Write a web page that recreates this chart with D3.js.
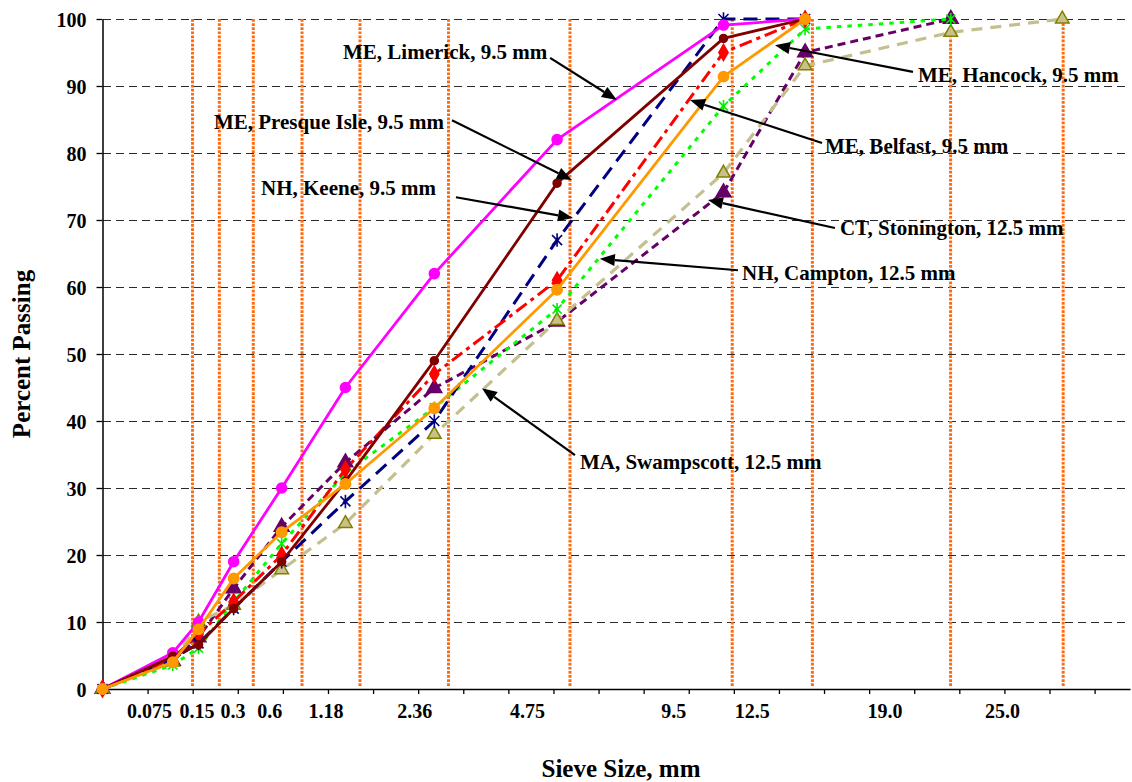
<!DOCTYPE html>
<html>
<head>
<meta charset="utf-8">
<script src="https://cdn.jsdelivr.net/npm/d3@7/dist/d3.min.js"></script>
<style>
  html, body { margin: 0; padding: 0; background: #fff; }
  svg { display: block; }
  text { font-family: "Liberation Serif", "Times New Roman", serif; font-weight: bold; fill: #000; }
</style>
</head>
<body>
<svg id="chart" width="1132" height="782"></svg>
<script>
// Sieve sizes (mm); 0 is the pan origin
const sieveSizes = [0, 0.075, 0.15, 0.3, 0.6, 1.18, 2.36, 4.75, 9.5, 12.5, 19, 25];

// Percent passing for each gradation (in sieve order, ends where the curve reaches 100)
const limerick    = [0, 5.4, 10, 19, 30, 45, 62, 82, 99.1, 100];
const presqueIsle = [0, 4.9, 6.6, 12, 19, 31, 49, 75.5, 97.1, 100];
const keene       = [0, 4.5, 6.8, 12, 19, 28, 40, 67, 100, 100];
const belfast     = [0, 4.6, 8.2, 13, 20, 32.8, 47, 61, 95, 100];
const campton     = [0, 4, 8.9, 16.5, 23.4, 30.6, 41.9, 59.6, 91.4, 100];
const hancock     = [0, 3.6, 6.1, 13, 21.7, 32.2, 42, 56.7, 87, 98.5, 100];
const stonington  = [0, 4.2, 7.7, 15, 24.2, 33.8, 44.9, 54.8, 74.1, 95, 100];
const swampscott  = [0, 4, 10, 12.5, 17.8, 24.7, 38, 55, 77, 93, 98, 100];

// Series names used by the callouts
const seriesNames = [
  "ME, Limerick, 9.5 mm", "ME, Presque Isle, 9.5 mm", "NH, Keene, 9.5 mm",
  "ME, Belfast, 9.5 mm", "NH, Campton, 12.5 mm", "ME, Hancock, 9.5 mm",
  "CT, Stonington, 12.5 mm", "MA, Swampscott, 12.5 mm"
];

// Control sieve guide lines (mm) and the percent each one rises to
const guideSizes = [0.13, 0.232, 0.409, 0.762, 1.343, 2.59, 5.055, 9.8, 12.79, 18.99, 25.05];
const guideTops  = [100, 100, 100, 100, 100, 100, 100, 100, 100, 97.2, 100];

// Axis labels
const sieveLabels = ["0.075", "0.15", "0.3", "0.6", "1.18", "2.36", "4.75", "9.5", "12.5", "19.0", "25.0"];
const yTicks = [0, 10, 20, 30, 40, 50, 60, 70, 80, 90, 100];

// ---------- layout ----------
const svg = d3.select("#chart");
const plot = { left: 102.5, right: 1130, top: 19, bottom: 689 };
const POWER = 0.45;

// 0.45 power gradation scale
const xp = d3.scaleLinear().domain([0, 4.557]).range([plot.left, plot.right]);
const sx = s => xp(Math.pow(s, POWER));
const y = d3.scaleLinear().domain([0, 100]).range([plot.bottom, plot.top]);

// label centres along the sieve axis, in power units
const labelAt = [0.209, 0.419, 0.579, 0.742, 0.991, 1.385, 1.885, 2.534, 2.882, 3.470, 3.991];

// gridlines
svg.append("g").selectAll("line").data(yTicks.filter(d => d > 0)).join("line")
  .attr("x1", plot.left).attr("x2", plot.right)
  .attr("y1", d => y(d) + 0.5).attr("y2", d => y(d) + 0.5)
  .attr("stroke", "#2a2a2a").attr("stroke-width", 1)
  .attr("stroke-dasharray", "8,5").attr("shape-rendering", "crispEdges");

// control sieve guides
svg.append("g").selectAll("line").data(guideSizes).join("line")
  .attr("x1", d => sx(d)).attr("x2", d => sx(d))
  .attr("y1", y(0) - 3).attr("y2", (d, i) => y(guideTops[i]))
  .attr("stroke", "#FF6A0D").attr("stroke-width", 3)
  .attr("stroke-dasharray", "2.7,1.4");

// axes
const xAxis = svg.append("g").attr("transform", `translate(0,${plot.bottom})`)
  .call(d3.axisBottom(xp).tickValues(d3.range(0, 4.41, 0.2)).tickSize(5).tickSizeOuter(0).tickFormat(""));
xAxis.select(".domain").attr("stroke", "#000").attr("stroke-width", 1.5);
xAxis.selectAll(".tick line").attr("stroke", "#000").attr("stroke-width", 1.3);

const yAxis = svg.append("g").attr("transform", `translate(${plot.left},0)`)
  .call(d3.axisLeft(y).tickValues(yTicks).tickSize(6).tickSizeOuter(0).tickPadding(10));
yAxis.select(".domain").attr("stroke", "#000").attr("stroke-width", 1.5);
yAxis.selectAll(".tick line").attr("stroke", "#000").attr("stroke-width", 1.3);
yAxis.selectAll(".tick text").attr("font-size", 20)
  .style("font-family", '"Liberation Serif", "Times New Roman", serif').style("font-weight", "bold")
  .attr("dy", "0.35em");

// sieve labels
svg.append("g").selectAll("text").data(sieveLabels).join("text")
  .attr("x", (d, i) => xp(labelAt[i])).attr("y", 718)
  .attr("text-anchor", "middle").attr("font-size", 20)
  .text(d => d);

// axis titles
svg.append("text").attr("x", 621).attr("y", 777).attr("text-anchor", "middle")
  .attr("font-size", 25).text("Sieve Size, mm");
svg.append("text").attr("transform", `translate(30,354) rotate(-90)`)
  .attr("text-anchor", "middle").attr("font-size", 25).text("Percent Passing");

// ---------- series ----------
const starPath = r => `M${-r},${-r}L${r},${r}M${-r},${r}L${r},${-r}M0,${-r * 1.35}L0,${r * 1.35}`;

const series = [
  { values: stonington,  color: "#660066", width: 3,   dash: "8,5",          marker: "triangle", mSize: 95, mFill: "#660066", mStroke: "#660066" },
  { values: swampscott,  color: "#C4BF8E", width: 3.2, dash: "11,8",         marker: "triangle", mSize: 80, mFill: "#C9C08A", mStroke: "#808000" },
  { values: hancock,     color: "#00FF00", width: 3,   dash: "4.5,6",        marker: "star", mR: 4.5, mStroke: "#00EE00" },
  { values: keene,       color: "#000080", width: 3,   dash: "14,8",         marker: "star", mR: 5, mStroke: "#000080" },
  { values: belfast,     color: "#FF0000", width: 3,   dash: "13,5,4,5",     marker: "diamond", mSize: 75, mFill: "#FF0000", mStroke: "#FF0000" },
  { values: limerick,    color: "#FF00FF", width: 2.8, dash: null,           marker: "circle", mSize: 80, mFill: "#FF00FF", mStroke: "#FF00FF" },
  { values: presqueIsle, color: "#800000", width: 2.8, dash: null,           marker: "circle", mSize: 50, mFill: "#800000", mStroke: "#800000" },
  { values: campton,     color: "#FF9900", width: 2.8, dash: null,           marker: "circle", mSize: 85, mFill: "#FF9900", mStroke: "#FF9900" }
];

const line = d3.line().x(d => sx(d.s)).y(d => y(d.v));

series.forEach(sr => {
  const pts = sr.values.map((v, i) => ({ s: sieveSizes[i], v }));
  const g = svg.append("g");
  g.append("path").datum(pts).attr("d", line)
    .attr("fill", "none").attr("stroke", sr.color).attr("stroke-width", sr.width)
    .attr("stroke-dasharray", sr.dash).attr("stroke-linejoin", "round");
  const m = g.selectAll("path.m").data(pts).join("path").attr("class", "m")
    .attr("transform", d => `translate(${sx(d.s)},${y(d.v)})`);
  if (sr.marker === "star") {
    m.attr("d", starPath(sr.mR)).attr("fill", "none").attr("stroke", sr.mStroke).attr("stroke-width", 1.6);
  } else {
    const type = { circle: d3.symbolCircle, diamond: d3.symbolDiamond, triangle: d3.symbolTriangle }[sr.marker];
    m.attr("d", d3.symbol().type(type).size(sr.mSize)())
      .attr("fill", sr.mFill).attr("stroke", sr.mStroke).attr("stroke-width", 1.5);
  }
});

// ---------- callouts ----------
// arrow tail/tip in [mm, percent]; text placed beside the tail
const callouts = [
  { name: 0, from: [4.59, 94.2],  to: [6.25, 87.9],  anchor: "end",   dx: -3,  dy: 1 },
  { name: 1, from: [2.648, 84.9], to: [5.10, 75.97], anchor: "end",   dx: -8,  dy: 9 },
  { name: 2, from: [2.716, 73.4], to: [5.127, 70.3], anchor: "end",   dx: -20, dy: -2 },
  { name: 5, from: [17.17, 92.1], to: [11.34, 96.1], anchor: "start", dx: 5,   dy: 10 },
  { name: 3, from: [13.18, 81.5], to: [8.40, 87.9],  anchor: "start", dx: 3,   dy: 10 },
  { name: 6, from: [13.71, 68.8], to: [8.98, 73.0],  anchor: "start", dx: 5,   dy: 7 },
  { name: 4, from: [10.0, 62.5],  to: [5.80, 64.2],  anchor: "start", dx: 4,   dy: 10 },
  { name: 7, from: [5.175, 34.9], to: [3.18, 44.9],  anchor: "start", dx: 5,   dy: 14 }
];

const cg = svg.append("g");
callouts.forEach(c => {
  const x1 = sx(c.from[0]), y1 = y(c.from[1]);
  const x2 = sx(c.to[0]), y2 = y(c.to[1]);
  const ang = Math.atan2(y2 - y1, x2 - x1);
  const L = 15, Wd = 6;
  const bx = x2 - L * Math.cos(ang), by = y2 - L * Math.sin(ang);
  cg.append("line").attr("x1", x1).attr("y1", y1).attr("x2", bx).attr("y2", by)
    .attr("stroke", "#000").attr("stroke-width", 2.2);
  const p1 = [bx + Wd * Math.sin(ang), by - Wd * Math.cos(ang)];
  const p2 = [bx - Wd * Math.sin(ang), by + Wd * Math.cos(ang)];
  cg.append("path").attr("d", `M${x2},${y2}L${p1[0]},${p1[1]}L${p2[0]},${p2[1]}Z`).attr("fill", "#000");
  cg.append("text").attr("x", x1 + c.dx).attr("y", y1 + c.dy)
    .attr("text-anchor", c.anchor).attr("font-size", 21)
    .text(seriesNames[c.name]);
});
</script>
</body>
</html>
